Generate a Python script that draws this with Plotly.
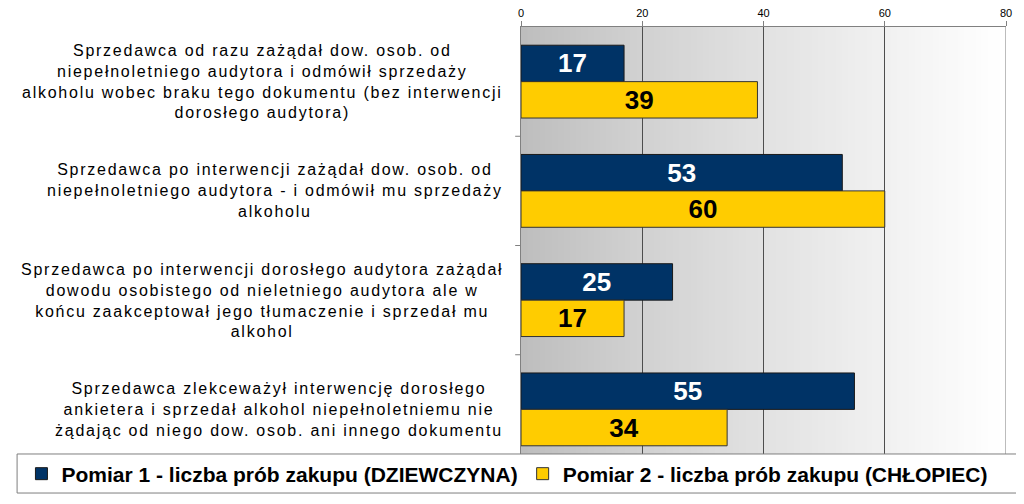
import plotly.graph_objects as go

# categories, top to bottom (one list entry per category, lines split with <br>)
categories = [
    "Sprzedawca od razu zażądał dow. osob. od<br>niepełnoletniego audytora i odmówił sprzedaży<br>alkoholu wobec braku tego dokumentu (bez interwencji<br>dorosłego audytora)",
    "Sprzedawca po interwencji zażądał dow. osob. od<br>niepełnoletniego audytora - i odmówił mu sprzedaży<br>alkoholu",
    "Sprzedawca po interwencji dorosłego audytora zażądał<br>dowodu osobistego od nieletniego audytora ale w<br>końcu zaakceptował jego tłumaczenie i sprzedał mu<br>alkohol",
    "Sprzedawca zlekceważył interwencję dorosłego<br>ankietera i sprzedał alkohol niepełnoletniemu nie<br>żądając od niego dow. osob. ani innego dokumentu",
]
series_names = ["Pomiar 1 - liczba prób zakupu (DZIEWCZYNA)", "Pomiar 2 - liczba prób zakupu (CHŁOPIEC)"]
pomiar1 = [17, 53, 25, 55]
pomiar2 = [39, 60, 17, 34]
x_ticks = [0, 20, 40, 60, 80]

FONT = "Arial, Liberation Sans, sans-serif"
cat_ids = list(range(len(categories)))

fig = go.Figure()
fig.add_trace(go.Bar(
    y=cat_ids, x=pomiar1, orientation="h", name=series_names[0],
    marker=dict(color="#003366", line=dict(color="#1a1a1a", width=1)),
    texttemplate="<b>%{x}</b>", textposition="inside", insidetextanchor="middle",
    textangle=0, constraintext="none",
    textfont=dict(family=FONT, size=26, color="white"),
))
fig.add_trace(go.Bar(
    y=cat_ids, x=pomiar2, orientation="h", name=series_names[1],
    marker=dict(color="#FFCC00", line=dict(color="#333333", width=1)),
    texttemplate="<b>%{x}</b>", textposition="inside", insidetextanchor="middle",
    textangle=0, constraintext="none",
    textfont=dict(family=FONT, size=26, color="black"),
))

# gray gradient background in plot area (thin overlapping stripes)
shapes = []
n = 80
for i in range(n):
    t = i / (n - 1)
    g = int(round(0xbd + (0xff - 0xbd) * (t ** 0.85)))
    shapes.append(dict(type="rect", xref="x", yref="paper", x0=80 * i / n, x1=min(80, 80 * (i + 1.6) / n),
                       y0=0, y1=1, fillcolor=f"rgb({g},{g},{g})", line=dict(width=0), layer="below"))
# right border of plot
shapes.append(dict(type="line", xref="x", yref="paper", x0=80, x1=80, y0=0, y1=1,
                   line=dict(color="#a6a6a6", width=1.5), layer="below"))
# legend box
shapes.append(dict(type="rect", xref="paper", yref="paper", x0=-1.039, x1=1.06, y0=-0.0664, y1=0.0229,
                   fillcolor="white", line=dict(color="#7f7f7f", width=1), layer="above"))

def spaced(txt):
    # wider letter spacing like the original rendering
    return "<br>".join(f"<span style='letter-spacing:1.75px'>{ln}</span>" for ln in txt.split("<br>"))

annotations = [
    dict(text=spaced(c), xref="paper", yref="y", x=-0.033, y=i, xanchor="right", yanchor="middle",
         align="center", showarrow=False, font=dict(family=FONT, size=16, color="black"))
    for i, c in enumerate(categories)
]

fig.update_layout(
    width=1024, height=504,
    margin=dict(l=513, r=26, t=19, b=48, autoexpand=False),
    paper_bgcolor="white", plot_bgcolor="white",
    barmode="group", bargap=1 / 3, bargroupgap=0,
    shapes=shapes, annotations=annotations,
    font=dict(family=FONT, color="black"),
    xaxis=dict(side="top", range=[0, 80], tickvals=x_ticks, showgrid=True, gridcolor="#4d4d4d", gridwidth=1,
               showline=True, linecolor="#808080", ticks="outside", ticklen=5, tickcolor="#808080",
               tickfont=dict(size=11), zeroline=False, layer="below traces", automargin=False),
    yaxis=dict(range=[3.5, -0.5], tickvals=cat_ids, showticklabels=False, showgrid=False, zeroline=False,
               showline=True, linecolor="#808080", ticks="", fixedrange=True, automargin=False),
    legend=dict(orientation="h", x=-1.03, xanchor="left", y=-0.0229, yanchor="middle",
                font=dict(family=FONT, size=21, color="black", weight="bold"),
                bgcolor="rgba(0,0,0,0)", itemwidth=30, traceorder="normal"),
    showlegend=True,
)

# category boundary ticks on the left axis
for b in [0.5, 1.5, 2.5]:
    fig.add_shape(type="line", xref="paper", yref="y", x0=-0.012, x1=0, y0=b, y1=b,
                  line=dict(color="#808080", width=1))

fig.write_html("out.html")
